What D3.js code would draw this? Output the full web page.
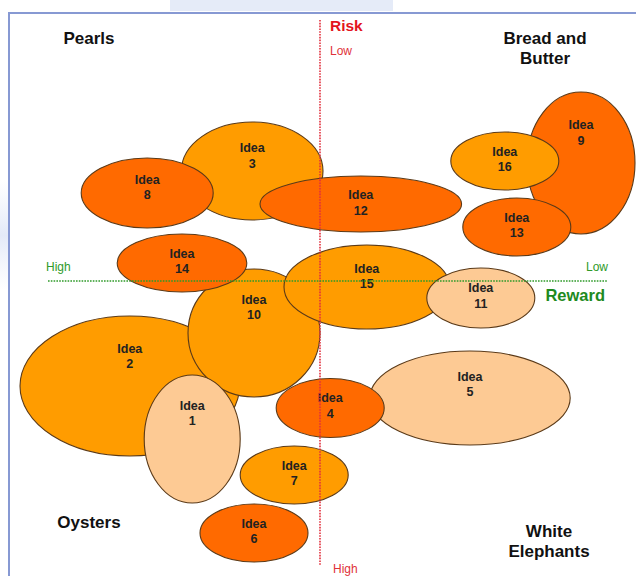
<!DOCTYPE html>
<html>
<head>
<meta charset="utf-8">
<script src="https://cdn.jsdelivr.net/npm/d3@7"></script>
<style>
  html, body { margin: 0; padding: 0; background: #ffffff; }
  svg { display: block; }
</style>
</head>
<body>
<svg id="chart" width="636" height="576"></svg>
<script>
// Idea portfolio: reward (x, negative = high reward) vs risk (y, negative = low risk)
const ideas   = [3, 8, 12, 9, 16, 13, 2, 10, 14, 15, 11, 1, 5, 4, 7, 6];
const reward  = [-11.3, -28.8, 6.8, 43.5, 30.8, 32.8, -31.7, -11.0, -23.0, 7.8, 26.8, -21.3, 25.0, 1.7, -4.3, -11.0];
const risk    = [-22.0, -17.6, -15.4, -23.6, -24.0, -10.8, 21.0, 10.4, -3.6, 1.2, 3.4, 31.6, 23.4, 25.4, 38.8, 50.4];
const spreadX = [11.8, 11.0, 16.8, 9.0, 9.0, 9.0, 18.3, 11.0, 10.8, 13.8, 9.0, 8.0, 16.7, 9.0, 9.0, 9.0];
const spreadY = [9.8, 7.0, 5.6, 14.2, 5.8, 5.8, 14.0, 12.8, 5.8, 8.4, 6.0, 12.8, 9.4, 5.9, 5.8, 5.8];
const tier    = ["mid", "hot", "hot", "hot", "mid", "hot", "mid", "mid", "hot", "mid", "cool", "cool", "cool", "hot", "mid", "hot"];

const quadrantNames = [["Pearls"], ["Bread and", "Butter"], ["Oysters"], ["White", "Elephants"]];
const riskTitle = "Risk", rewardTitle = "Reward";
const lowLabel = "Low", highLabel = "High";

const svg = d3.select("#chart");

// page furniture: frame and header band
svg.append("rect").attr("x", 170).attr("y", 0).attr("width", 223).attr("height", 11).attr("fill", "#e5ebf8");
const glow = svg.append("defs").append("linearGradient").attr("id", "glow").attr("x1", 0).attr("x2", 0).attr("y1", 0).attr("y2", 1);
glow.append("stop").attr("offset", "0").attr("stop-color", "#e8eef9").attr("stop-opacity", 0);
glow.append("stop").attr("offset", "0.5").attr("stop-color", "#e3eaf8").attr("stop-opacity", 1);
glow.append("stop").attr("offset", "1").attr("stop-color", "#e8eef9").attr("stop-opacity", 0);
svg.append("rect").attr("x", 0).attr("y", 180).attr("width", 8).attr("height", 110).attr("fill", "url(#glow)");
svg.append("path").attr("d", "M9,576 V13 H636").attr("fill", "none").attr("stroke", "#8799d3").attr("stroke-width", 2);

const x = d3.scaleLinear().domain([-50, 50]).range([20, 620]);
const y = d3.scaleLinear().domain([-50, 50]).range([31, 531]);
const fill = d3.scaleOrdinal().domain(["hot", "mid", "cool"]).range(["#ff6a00", "#ff9c00", "#fdca94"]);

const data = ideas.map((id, i) => ({
  id, cx: x(reward[i]), cy: y(risk[i]),
  rx: x(spreadX[i]) - x(0), ry: y(spreadY[i]) - y(0), tier: tier[i]
}));

const bubble = svg.append("g").selectAll("g").data(data).join("g");
bubble.append("ellipse")
  .attr("cx", d => d.cx).attr("cy", d => d.cy)
  .attr("rx", d => d.rx).attr("ry", d => d.ry)
  .attr("fill", d => fill(d.tier))
  .attr("stroke", "#5b3a18").attr("stroke-width", 1.1);
const lbl = bubble.append("text")
  .attr("text-anchor", "middle")
  .attr("font-family", "'Liberation Sans', Arial, sans-serif")
  .attr("font-weight", "bold").attr("font-size", 12.5).attr("fill", "#222");
lbl.append("tspan").attr("x", d => d.cx).attr("y", d => d.cy - 0.68 * d.ry + 14.5).text("Idea");
lbl.append("tspan").attr("x", d => d.cx).attr("y", d => d.cy - 0.68 * d.ry + 30).text(d => d.id);

// axes: dotted cross lines through the origin
svg.append("line").attr("x1", x(0)).attr("x2", x(0)).attr("y1", 20).attr("y2", 566)
  .attr("stroke", "#e2303c").attr("stroke-width", 1.6).attr("stroke-dasharray", "1.6,1.2");
svg.append("line").attr("x1", 48).attr("x2", 608).attr("y1", y(0)).attr("y2", y(0))
  .attr("stroke", "#2f9a2a").attr("stroke-width", 1.6).attr("stroke-dasharray", "1.6,1.2");

const font = "'Liberation Sans', Arial, sans-serif";
svg.append("text").attr("x", x(0) + 10).attr("y", 31).attr("font-family", font).attr("font-weight", "bold")
  .attr("font-size", 15.5).attr("fill", "#e3141d").text(riskTitle);
svg.append("text").attr("x", x(0) + 10).attr("y", 55).attr("font-family", font)
  .attr("font-size", 12).attr("fill", "#e0323a").text(lowLabel);
svg.append("text").attr("x", x(0) + 13).attr("y", 573).attr("font-family", font)
  .attr("font-size", 12).attr("fill", "#e0323a").text(highLabel);
svg.append("text").attr("x", 46).attr("y", 271).attr("font-family", font)
  .attr("font-size", 12).attr("fill", "#2f9a2a").text(highLabel);
svg.append("text").attr("x", 608).attr("y", 271).attr("text-anchor", "end").attr("font-family", font)
  .attr("font-size", 12).attr("fill", "#2f9a2a").text(lowLabel);
svg.append("text").attr("x", 605).attr("y", 301).attr("text-anchor", "end").attr("font-family", font)
  .attr("font-weight", "bold").attr("font-size", 16.5).attr("fill", "#1e8a1e").text(rewardTitle);

// quadrant names
const qx = [89, 545, 89, 549], qy = [44, 44, 528, 537];
quadrantNames.forEach((lines, i) => {
  const t = svg.append("text").attr("text-anchor", "middle")
    .attr("font-family", "'Liberation Sans Narrow', 'Arial Narrow', 'Liberation Sans', sans-serif")
    .attr("font-weight", "bold").attr("font-size", 17).attr("fill", "#111");
  lines.forEach((s, j) => t.append("tspan").attr("x", qx[i]).attr("y", qy[i] + j * 20).text(s));
});
</script>
</body>
</html>
